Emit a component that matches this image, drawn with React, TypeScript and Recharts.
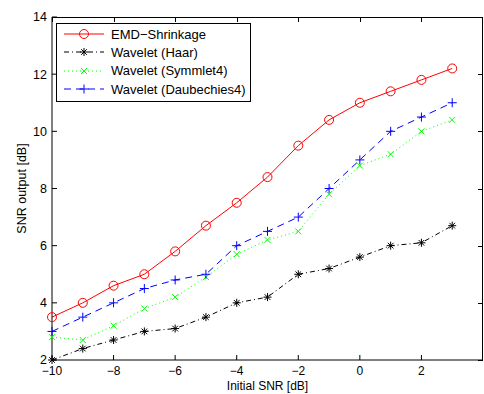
import { LineChart, Line, XAxis, YAxis } from 'recharts';

const snrIn = [-10, -9, -8, -7, -6, -5, -4, -3, -2, -1, 0, 1, 2, 3];
const emdShrinkage = [3.5, 4.0, 4.6, 5.0, 5.8, 6.7, 7.5, 8.4, 9.5, 10.4, 11.0, 11.4, 11.8, 12.2];
const waveletHaar = [2.0, 2.4, 2.7, 3.0, 3.1, 3.5, 4.0, 4.2, 5.0, 5.2, 5.6, 6.0, 6.1, 6.7];
const waveletSym4 = [2.8, 2.7, 3.2, 3.8, 4.2, 4.9, 5.7, 6.2, 6.5, 7.8, 8.8, 9.2, 10.0, 10.4];
const waveletDb4 = [3.0, 3.5, 4.0, 4.5, 4.8, 5.0, 6.0, 6.5, 7.0, 8.0, 9.0, 10.0, 10.5, 11.0];
const xTicks = [-10, -8, -6, -4, -2, 0, 2];
const yTicks = [2, 4, 6, 8, 10, 12, 14];
const xDomain = [-10, 4];
const yDomain = [2, 14];

const data = snrIn.map((x, i) => ({
  x,
  emd: emdShrinkage[i],
  haar: waveletHaar[i],
  sym: waveletSym4[i],
  db: waveletDb4[i],
}));

const W = 484;
const H = 394;
const M = { top: 17, right: 1, bottom: 0, left: 0 };
const yAxisW = 52;
const xAxisH = 34;
const font = '"Liberation Sans", Arial, sans-serif';
const fmt = (v: number) => String(v).replace('-', '\u2212');

const Circle = (p: any) => <circle key={p.index} cx={p.cx} cy={p.cy} r={4.5} fill="none" stroke="#ff0000" strokeWidth={1} />;
const Star = (p: any) => {
  const { cx, cy } = p;
  const r = 4;
  const d = r * 0.707;
  return (
    <g key={p.index} stroke="#000" strokeWidth={1}>
      <line x1={cx - r} y1={cy} x2={cx + r} y2={cy} />
      <line x1={cx} y1={cy - r} x2={cx} y2={cy + r} />
      <line x1={cx - d} y1={cy - d} x2={cx + d} y2={cy + d} />
      <line x1={cx - d} y1={cy + d} x2={cx + d} y2={cy - d} />
    </g>
  );
};
const Cross = (p: any) => {
  const { cx, cy } = p;
  const d = 3;
  return (
    <g key={p.index} stroke="#00ff00" strokeWidth={1}>
      <line x1={cx - d} y1={cy - d} x2={cx + d} y2={cy + d} />
      <line x1={cx - d} y1={cy + d} x2={cx + d} y2={cy - d} />
    </g>
  );
};
const Plus = (p: any) => {
  const { cx, cy } = p;
  const r = 4.5;
  return (
    <g key={p.index} stroke="#0000ff" strokeWidth={1}>
      <line x1={cx - r} y1={cy} x2={cx + r} y2={cy} />
      <line x1={cx} y1={cy - r} x2={cx} y2={cy + r} />
    </g>
  );
};

const legendItems = [
  { label: 'EMD\u2212Shrinkage', color: '#ff0000', dash: undefined, Mark: Circle },
  { label: 'Wavelet (Haar)', color: '#000000', dash: '5 3 1 3', Mark: Star },
  { label: 'Wavelet (Symmlet4)', color: '#00ff00', dash: '1 3', Mark: Cross },
  { label: 'Wavelet (Daubechies4)', color: '#0000ff', dash: '7 5', Mark: Plus },
];

const LegendBox = () => (
  <div style={{ position: 'absolute', left: 56, top: 23, border: '1px solid #000', background: '#fff', width: 195, height: 79, boxSizing: 'border-box', padding: '1px 0 0 0', fontFamily: font, fontSize: 13, whiteSpace: 'nowrap' }}>
    {legendItems.map(({ label, color, dash, Mark }) => (
      <div key={label} style={{ display: 'flex', alignItems: 'center', height: 18.3 }}>
        <svg width={52} height={18}>
          <line x1={7} y1={9} x2={47} y2={9} stroke={color} strokeDasharray={dash} />
          <Mark cx={27} cy={9} index={0} />
        </svg>
        <span style={{ marginLeft: 2 }}>{label}</span>
      </div>
    ))}
  </div>
);

// top and right edges of the axes box, with inward ticks (matlab style)
const Frame = () => {
  const left = M.left + yAxisW;
  const top = M.top;
  const right = W - M.right;
  const bottom = H - M.bottom - xAxisH;
  const sx = (v: number) => left + ((v - xDomain[0]) / (xDomain[1] - xDomain[0])) * (right - left);
  const sy = (v: number) => bottom - ((v - yDomain[0]) / (yDomain[1] - yDomain[0])) * (bottom - top);
  const blk = { position: 'absolute' as const, background: '#000' };
  return (
    <>
      <div style={{ ...blk, left, top, width: right - left, height: 1 }} />
      <div style={{ ...blk, left: right - 1, top, width: 1, height: bottom - top }} />
      {xTicks.map(t => <div key={'x' + t} style={{ ...blk, left: Math.round(sx(t)) - 0.5, top, width: 1, height: 5 }} />)}
      {yTicks.map(t => <div key={'y' + t} style={{ ...blk, left: right - 5, top: Math.round(sy(t)) - 0.5, width: 5, height: 1 }} />)}
    </>
  );
};

export default function App() {
  return (
    <div style={{ position: 'absolute', left: 0, top: 0, width: W, height: H, background: '#fff' }}>
      <LineChart width={W} height={H} data={data} margin={M}>
        <XAxis
          dataKey="x" type="number" domain={xDomain} ticks={xTicks} interval={0}
          stroke="#000" tickSize={-5} tickMargin={11} tickFormatter={fmt}
          tick={{ fill: '#000', fontSize: 12, fontFamily: font }}
          height={xAxisH}
          label={{ value: 'Initial SNR [dB]', position: 'insideBottom', offset: 4, fill: '#000', fontSize: 12, fontFamily: font }}
        />
        <YAxis
          type="number" domain={yDomain} ticks={yTicks} interval={0}
          stroke="#000" tickSize={-5} tickMargin={10} width={yAxisW}
          tick={{ fill: '#000', fontSize: 12.5, fontFamily: font }}
          label={{ value: 'SNR output [dB]', angle: -90, position: 'insideLeft', offset: 22, style: { textAnchor: 'middle' }, fill: '#000', fontSize: 12.5, fontFamily: font }}
        />
        <Line dataKey="emd" stroke="#ff0000" strokeWidth={1} dot={Circle} isAnimationActive={false} />
        <Line dataKey="haar" stroke="#000000" strokeWidth={1} strokeDasharray="5 3 1 3" dot={Star} isAnimationActive={false} />
        <Line dataKey="sym" stroke="#00ff00" strokeWidth={1} strokeDasharray="1 3" dot={Cross} isAnimationActive={false} />
        <Line dataKey="db" stroke="#0000ff" strokeWidth={1} strokeDasharray="7 5" dot={Plus} isAnimationActive={false} />
      </LineChart>
      <Frame />
      <LegendBox />
    </div>
  );
}
